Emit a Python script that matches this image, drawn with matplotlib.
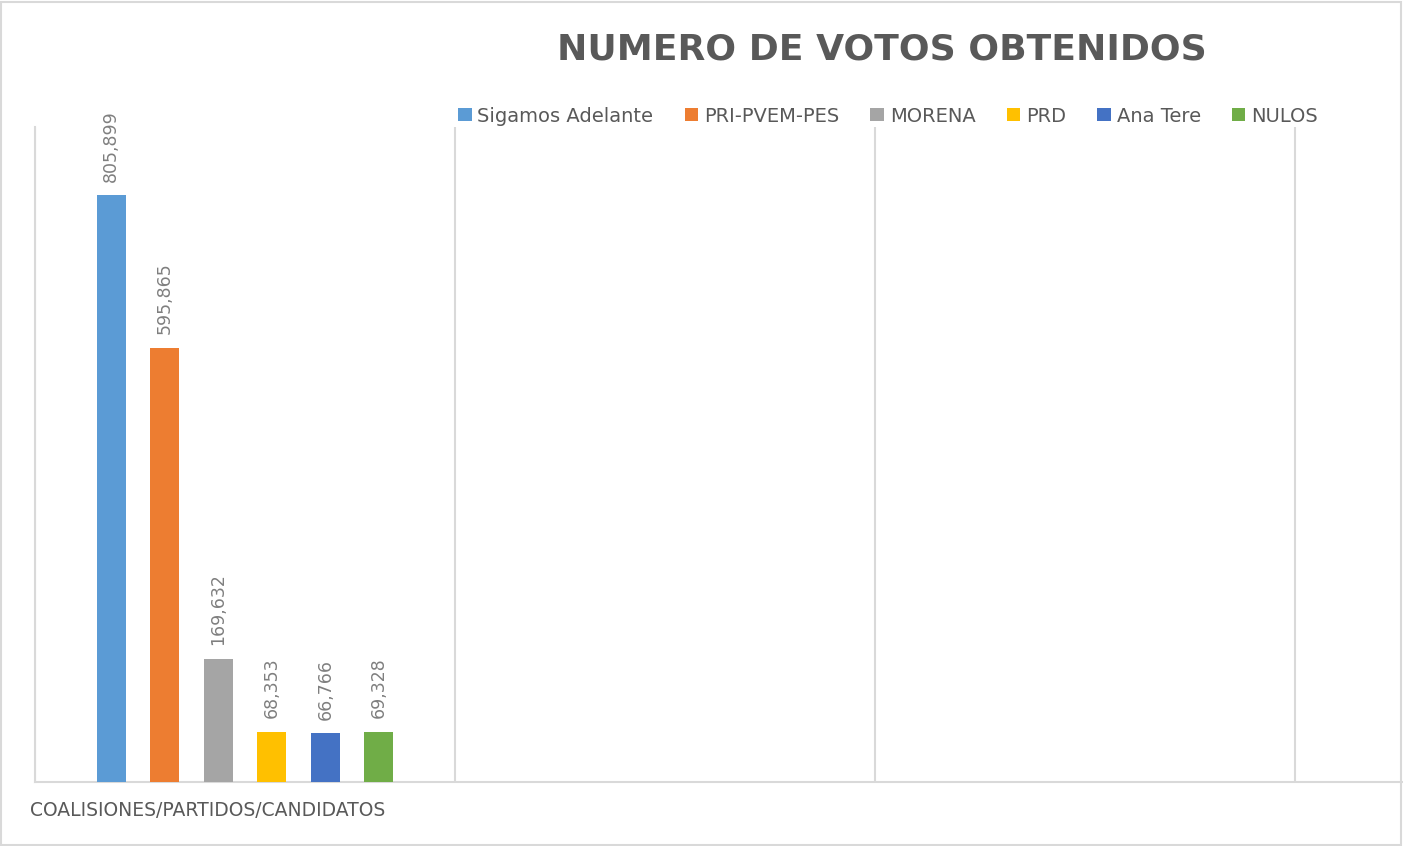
import matplotlib.pyplot as plt
from matplotlib.patches import Rectangle

# data
series = ['Sigamos Adelante', 'PRI-PVEM-PES', 'MORENA', 'PRD', 'Ana Tere', 'NULOS']
votes = [805899, 595865, 169632, 68353, 66766, 69328]
colors = ['#5B9BD5', '#ED7D31', '#A5A5A5', '#FFC000', '#4472C4', '#70AD47']
title = 'NUMERO DE VOTOS OBTENIDOS'
xlabel = 'COALISIONES/PARTIDOS/CANDIDATOS'

W, H = 1403, 846
fig = plt.figure(figsize=(W / 100, H / 100), dpi=100)
fig.patch.set_facecolor('white')
fig.patches.append(Rectangle((1 / W, 1 / H), 1 - 3 / W, 1 - 3 / H, transform=fig.transFigure,
                             fill=False, edgecolor='#D9D9D9', linewidth=1.5))

ax = fig.add_axes([35 / W, (H - 782) / H, (W - 35) / W, (782 - 127) / H])

# one category slot is 420 px wide
ax.set_xlim(0, (W - 35) / 420)
ax.set_ylim(0, 900000)

step = 0.1276
width = 0.069
n = len(series)
for i, (name, v, c) in enumerate(zip(series, votes, colors)):
    x = 0.5 + (i - (n - 1) / 2) * step
    ax.bar(x, v, width=width, color=c, label=name, zorder=3)
    ax.annotate(f'{v:,}', (x, v), xytext=(0, 10), textcoords='offset points',
                rotation=90, ha='center', va='bottom', fontsize=12.5, color='#7F7F7F')

ax.set_xticks([0, 1, 2, 3])
ax.set_xticklabels([])
ax.tick_params(axis='x', length=0)
ax.set_yticks([])
ax.grid(axis='x', color='#D9D9D9', linewidth=1.5, zorder=0)
for s in ['top', 'right']:
    ax.spines[s].set_visible(False)
ax.spines['left'].set_color('#D9D9D9')
ax.spines['left'].set_linewidth(1.5)
ax.spines['bottom'].set_color('#D9D9D9')
ax.spines['bottom'].set_linewidth(1.5)

fig.text(882 / W, 1 - 50 / H, title, ha='center', va='center', fontsize=26,
         fontweight='bold', color='#595959')
fig.text(30 / W, 1 - 810 / H, xlabel, ha='left', va='center', fontsize=13.5, color='#595959')

leg = fig.legend(loc='center', bbox_to_anchor=(888 / W, 1 - 116 / H), ncol=6, frameon=False,
                 fontsize=14, handlelength=0.7, handleheight=0.7, handletextpad=0.3,
                 columnspacing=1.6)
for t in leg.get_texts():
    t.set_color('#595959')

fig.savefig('out.png', dpi=100)
